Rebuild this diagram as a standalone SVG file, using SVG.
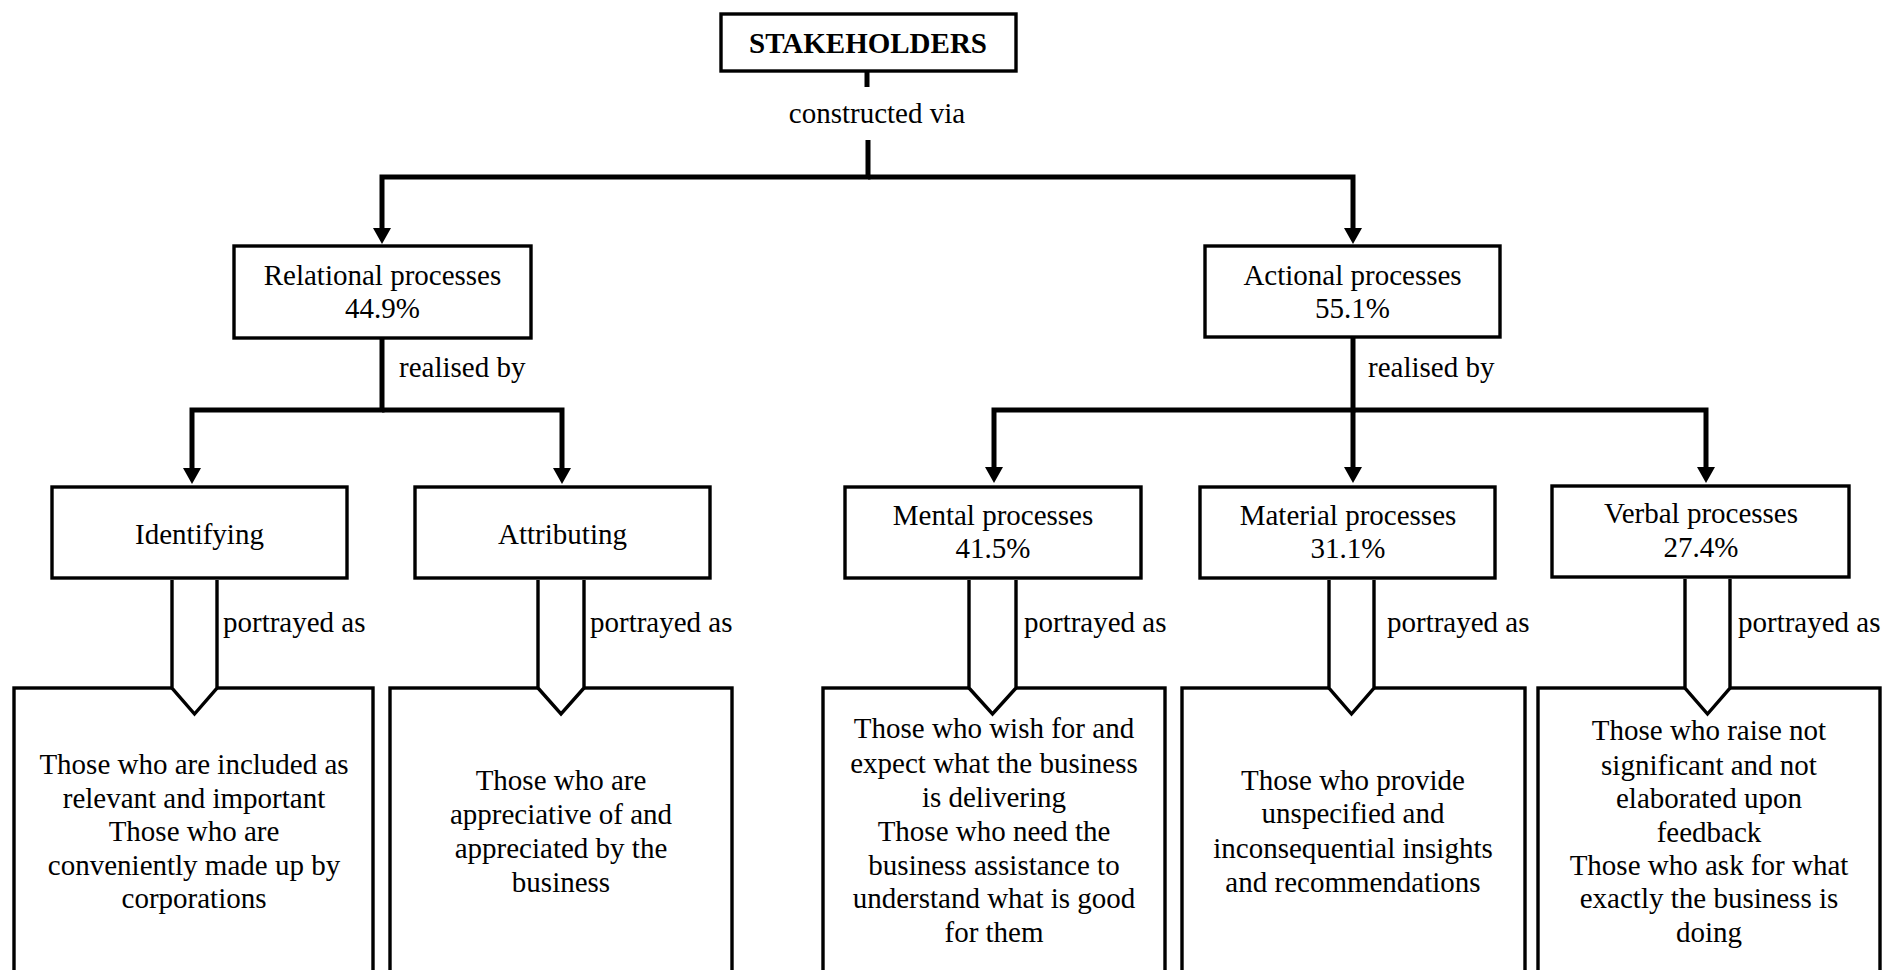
<svg xmlns="http://www.w3.org/2000/svg" width="1886" height="970" viewBox="0 0 1886 970">
<style>
text{font-family:"Liberation Serif","Times New Roman",serif;font-size:29px;fill:#000}
.c{text-anchor:middle}
.b{font-weight:bold}
.box{fill:#fff;stroke:#000;stroke-width:3.4}
.conn{fill:none;stroke:#000;stroke-width:5;stroke-linejoin:miter;stroke-linecap:butt}
.hollow{fill:#fff;stroke:#000;stroke-width:3.4;stroke-linejoin:miter}
</style>
<defs>
<marker id="ah" viewBox="0 0 16 18" refX="1" refY="9" markerWidth="16" markerHeight="18" markerUnits="userSpaceOnUse" orient="auto">
<path d="M0,0 L16,9 L0,18 z" fill="#000"/>
</marker>
</defs>
<rect width="1886" height="970" fill="#fff"/>

<g id="connectors">
<line class="conn" x1="867" y1="71" x2="867" y2="87"/>
<text x="877" y="123" class="c">constructed via</text>
<path class="conn" d="M868,140 V177 H382 V229" marker-end="url(#ah)"/>
<path class="conn" d="M868,177 H1353 V229" marker-end="url(#ah)"/>

<path class="conn" d="M382,338 V410 H192 V469" marker-end="url(#ah)"/>
<path class="conn" d="M382,410 H562 V469" marker-end="url(#ah)"/>
<text x="399" y="377">realised by</text>

<path class="conn" d="M1353,337 V410 H994 V468" marker-end="url(#ah)"/>
<path class="conn" d="M1353,410 H1706 V468" marker-end="url(#ah)"/>
<path class="conn" d="M1353,410 V468" marker-end="url(#ah)"/>
<text x="1368" y="377">realised by</text>
</g>

<g id="stakeholders">
<rect class="box" x="721" y="14" width="295" height="57"/>
<text x="868" y="53" class="c b">STAKEHOLDERS</text>
</g>

<g id="relational">
<rect class="box" x="234" y="246" width="297" height="92"/>
<text x="382.5" y="285" class="c">Relational processes</text>
<text x="382.5" y="318" class="c">44.9%</text>
</g>

<g id="actional">
<rect class="box" x="1205" y="246" width="295" height="91"/>
<text x="1352.5" y="285" class="c">Actional processes</text>
<text x="1352.5" y="318" class="c">55.1%</text>
</g>

<g id="identifying">
<rect class="box" x="52" y="487" width="295" height="91"/>
<text x="199.5" y="544" class="c">Identifying</text>
</g>

<g id="attributing">
<rect class="box" x="415" y="487" width="295" height="91"/>
<text x="562.5" y="544" class="c">Attributing</text>
</g>

<g id="mental">
<rect class="box" x="845" y="487" width="296" height="91"/>
<text x="993" y="525" class="c">Mental processes</text>
<text x="993" y="558" class="c">41.5%</text>
</g>

<g id="material">
<rect class="box" x="1200" y="487" width="295" height="91"/>
<text x="1348" y="525" class="c">Material processes</text>
<text x="1348" y="558" class="c">31.1%</text>
</g>

<g id="verbal">
<rect class="box" x="1552" y="486" width="297" height="91"/>
<text x="1701" y="523" class="c">Verbal processes</text>
<text x="1701" y="557" class="c">27.4%</text>
</g>

<g id="identifying-desc">
<rect class="box" x="14" y="688" width="359" height="330"/>
<text x="194" y="774" class="c">Those who are included as</text>
<text x="194" y="808" class="c">relevant and important</text>
<text x="194" y="841" class="c">Those who are</text>
<text x="194" y="875" class="c">conveniently made up by</text>
<text x="194" y="908" class="c">corporations</text>
</g>

<g id="attributing-desc">
<rect class="box" x="390" y="688" width="342" height="330"/>
<text x="561" y="790" class="c">Those who are</text>
<text x="561" y="824" class="c">appreciative of and</text>
<text x="561" y="858" class="c">appreciated by the</text>
<text x="561" y="892" class="c">business</text>
</g>

<g id="mental-desc">
<rect class="box" x="823" y="688" width="342" height="330"/>
<text x="994" y="738" class="c">Those who wish for and</text>
<text x="994" y="773" class="c">expect what the business</text>
<text x="994" y="807" class="c">is delivering</text>
<text x="994" y="841" class="c">Those who need the</text>
<text x="994" y="875" class="c">business assistance to</text>
<text x="994" y="908" class="c">understand what is good</text>
<text x="994" y="942" class="c">for them</text>
</g>

<g id="material-desc">
<rect class="box" x="1182" y="688" width="343" height="330"/>
<text x="1353" y="790" class="c">Those who provide</text>
<text x="1353" y="823" class="c">unspecified and</text>
<text x="1353" y="858" class="c">inconsequential insights</text>
<text x="1353" y="892" class="c">and recommendations</text>
</g>

<g id="verbal-desc">
<rect class="box" x="1538" y="688" width="342" height="330"/>
<text x="1709" y="740" class="c">Those who raise not</text>
<text x="1709" y="775" class="c">significant and not</text>
<text x="1709" y="808" class="c">elaborated upon</text>
<text x="1709" y="842" class="c">feedback</text>
<text x="1709" y="875" class="c">Those who ask for what</text>
<text x="1709" y="908" class="c">exactly the business is</text>
<text x="1709" y="942" class="c">doing</text>
</g>

<g id="portrayed-arrows">
<path class="hollow" d="M172,580 V688 L194.5,714 L217,688 V580"/>
<text x="223" y="632">portrayed as</text>
<path class="hollow" d="M538,580 V688 L561,714 L584,688 V580"/>
<text x="590" y="632">portrayed as</text>
<path class="hollow" d="M969,580 V688 L992.5,714 L1016,688 V580"/>
<text x="1024" y="632">portrayed as</text>
<path class="hollow" d="M1329,580 V688 L1351.5,714 L1374,688 V580"/>
<text x="1387" y="632">portrayed as</text>
<path class="hollow" d="M1685,579 V688 L1707.5,714 L1730,688 V579"/>
<text x="1738" y="632">portrayed as</text>
</g>
</svg>
